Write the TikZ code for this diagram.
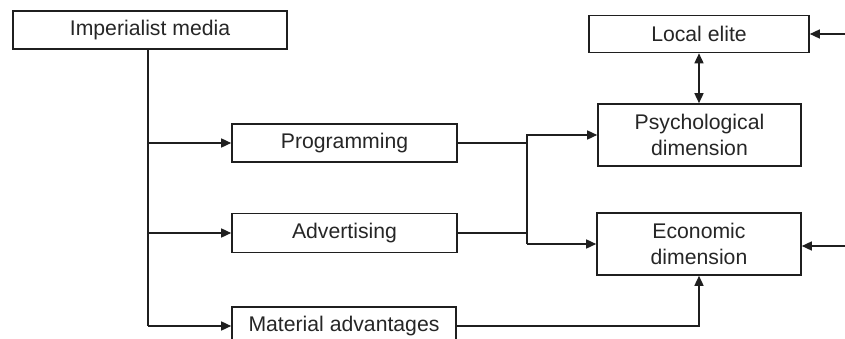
\documentclass[tikz,border=0pt]{standalone}
\usepackage{fontspec}
\setmainfont{Liberation Sans}
\usetikzlibrary{arrows.meta}
\begin{document}
\begin{tikzpicture}[x=1pt,y=-1pt,
  box/.style={draw=black!88, line width=1.6pt, fill=white, inner sep=0pt,
    text=black!85, align=center, font=\fontsize{21.2}{25.5}\selectfont},
  link/.style={draw=black!88, line width=1.5pt},
  arr/.style={link, -{Triangle[length=10pt,width=9pt]}},
  darr/.style={link, {Triangle[length=10pt,width=9pt]}-{Triangle[length=10pt,width=9pt]}}]
\useasboundingbox (0,0) rectangle (845,339);

% boxes
\node[box, minimum width=274pt, minimum height=38pt] (imp)   at (150,30)    {Imperialist media};
\node[box, minimum width=225pt, minimum height=38pt] (prog)  at (344.5,143) {Programming};
\node[box, minimum width=225pt, minimum height=39pt] (adv)   at (344.5,233) {Advertising};
\node[box, minimum width=224pt, minimum height=38pt] (mat)   at (344,326)   {Material advantages};
\node[box, minimum width=220pt, minimum height=37pt] (elite) at (699,34)    {Local elite};
\node[box, minimum width=203pt, minimum height=62pt] (psych) at (699.5,135) {Psychological\\dimension};
\node[box, minimum width=204pt, minimum height=62pt] (econ)  at (699,244)   {Economic\\dimension};

% helper coordinates
\coordinate (trunk) at (148,0);
\coordinate (jx) at (527,0);
\coordinate (inElite) at (845,34);
\coordinate (inEcon) at (845,246);

% trunk from the media box to the three channels
\draw[link] (imp.south -| trunk) -- (trunk |- mat.west);
\draw[arr] (trunk |- prog.west) -- (prog.west);
\draw[arr] (trunk |- adv.west) -- (adv.west);
\draw[arr] (trunk |- mat.west) -- (mat.west);

% programming and advertising join and feed both dimensions
\draw[link] (prog.east) -- (prog.east -| jx);
\draw[link] (adv.east) -- (adv.east -| jx);
\draw[arr] (jx |- econ.west) |- (psych.west);
\draw[arr] (jx |- econ.west) -- (econ.west);

% material advantages feed the economic dimension
\draw[arr] (mat.east) -| (econ.south);

% elite and psychological dimension
\draw[darr] (elite.south) -- (elite.south |- psych.north);

% incoming arrows from the right
\draw[arr] (inElite) -- (elite.east);
\draw[arr] (inEcon) -- (econ.east |- inEcon);
\end{tikzpicture}
\end{document}
